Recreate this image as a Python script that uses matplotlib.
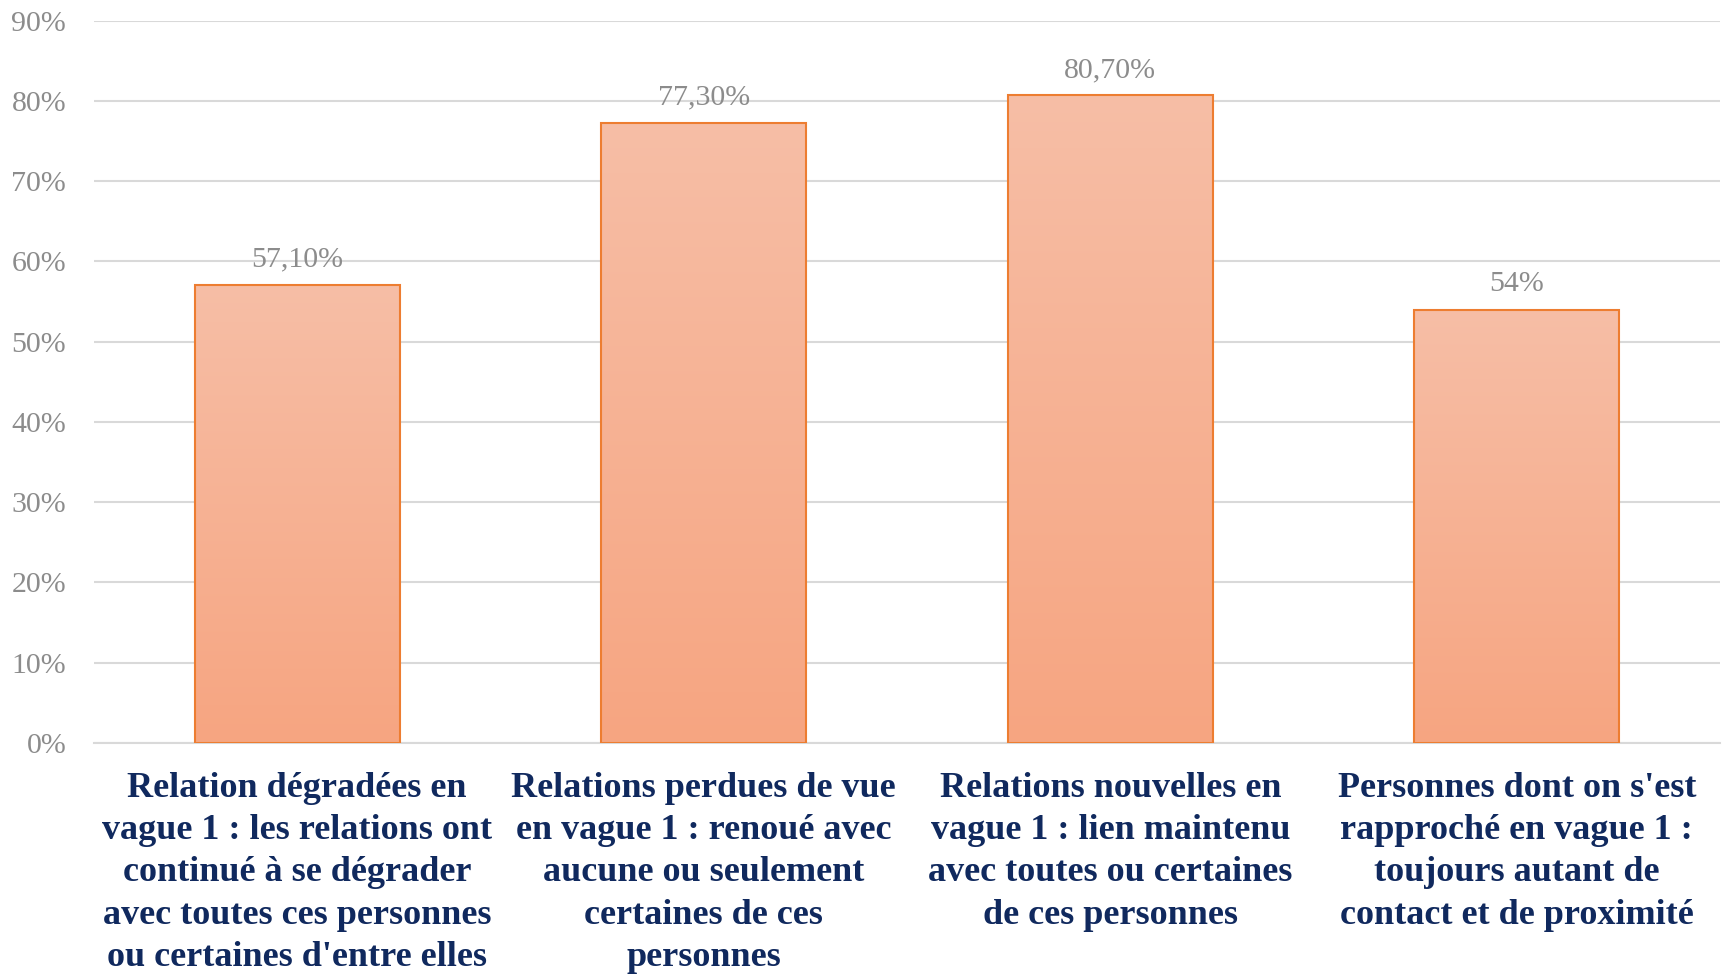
import matplotlib
matplotlib.use("Agg")
import matplotlib.pyplot as plt
import numpy as np
from matplotlib.colors import LinearSegmentedColormap
from matplotlib.ticker import MultipleLocator, FuncFormatter

categories = [
    "Relation dégradées en\nvague 1 : les relations ont\ncontinué à se dégrader\navec toutes ces personnes\nou certaines d'entre elles",
    "Relations perdues de vue\nen vague 1 : renoué avec\naucune ou seulement\ncertaines de ces\npersonnes",
    "Relations nouvelles en\nvague 1 : lien maintenu\navec toutes ou certaines\nde ces personnes",
    "Personnes dont on s'est\nrapproché en vague 1 :\ntoujours autant de\ncontact et de proximité",
]
values = [57.1, 77.3, 80.7, 54.0]
value_labels = ["57,10%", "77,30%", "80,70%", "54%"]

plt.rcParams['font.family'] = ['Liberation Serif', 'DejaVu Serif']

fig = plt.figure(figsize=(17.27, 9.74), dpi=100)
ax = fig.add_axes([0.0544, 0.2372, 0.9416, 0.7415])

x = np.arange(len(categories))
width = 0.505
cmap = LinearSegmentedColormap.from_list("g", ["#F6A581", "#F7BEA6"])
grad = np.linspace(0, 1, 256).reshape(-1, 1)

bars = ax.bar(x, values, width=width, facecolor="none", edgecolor="#ED7D31",
              linewidth=1.5, zorder=3)
for b in bars:
    x0 = b.get_x(); w = b.get_width(); h = b.get_height()
    im = ax.imshow(grad, extent=(x0, x0 + w, 0, h), origin="lower", cmap=cmap,
                   aspect="auto", zorder=2)
    im.set_clip_path(b)

for xi, v, lab in zip(x, values, value_labels):
    ax.annotate(lab, (xi, v), xytext=(0, 9), textcoords="offset points",
                ha="center", va="bottom", fontsize=21.5, color="#8C8C8C")

ax.set_xlim(-0.5, len(categories) - 0.5)
ax.set_ylim(0, 90)
ax.yaxis.set_major_locator(MultipleLocator(10))
ax.yaxis.set_major_formatter(FuncFormatter(lambda v, p: f"{v:.0f}%"))
ax.grid(axis="y", color="#D9D9D9", linewidth=1.5, zorder=0)
ax.set_axisbelow(True)
for s in ["top", "right", "left"]:
    ax.spines[s].set_visible(False)
ax.spines["bottom"].set_color("#D9D9D9")
ax.spines["bottom"].set_linewidth(1.5)
ax.tick_params(axis="y", length=0, pad=20, labelsize=21.5, labelcolor="#8C8C8C")
ax.tick_params(axis="x", length=0, pad=21)
ax.set_xticks(x)
ax.set_xticklabels(categories, fontsize=26, fontweight="bold", color="#10295E",
                   linespacing=1.365, va="top")

fig.savefig("out.png", dpi=100)
